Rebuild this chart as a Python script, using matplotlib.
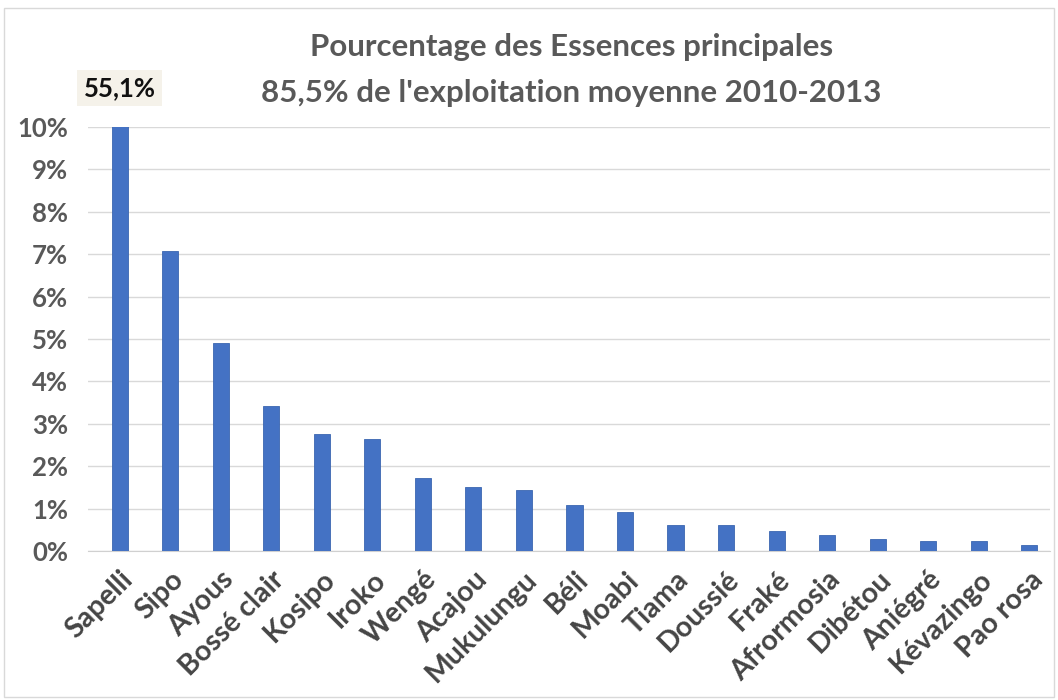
import matplotlib.pyplot as plt
from matplotlib.patches import Rectangle

species = ["Sapelli", "Sipo", "Ayous", "Bossé clair", "Kosipo", "Iroko", "Wengé",
           "Acajou", "Mukulungu", "Béli", "Moabi", "Tiama", "Doussié", "Fraké",
           "Afrormosia", "Dibétou", "Aniégré", "Kévazingo", "Pao rosa"]
share = [55.1, 7.08, 4.9, 3.42, 2.76, 2.64, 1.72, 1.51, 1.44, 1.08, 0.92,
         0.61, 0.61, 0.47, 0.38, 0.28, 0.23, 0.23, 0.13]
yticks = list(range(0, 11))

plt.rcParams['font.family'] = ['Lato', 'DejaVu Sans']

fig = plt.figure(figsize=(10.58, 7), dpi=100)
ax = fig.add_axes([0.083, 0.213, 0.909, 0.6057])

x = list(range(len(species)))
ax.bar(x, share, width=0.32, color="#4472C4", edgecolor="#3b66b0", linewidth=0.6, zorder=3)
ax.set_ylim(0, 10)
ax.set_xlim(-0.63, 18.4)
ax.set_yticks(yticks)
ax.set_yticklabels([f"{t}%" for t in yticks], fontsize=18.5, fontweight="bold", color="#595959")
ax.set_xticks(x)
ax.set_xticklabels(species, rotation=45, ha="right", rotation_mode="anchor",
                   fontsize=20.5, fontweight="bold", color="#454545")
ax.tick_params(axis="both", length=0)
ax.tick_params(axis="y", pad=14)
ax.tick_params(axis="x", pad=11)
ax.grid(axis="y", color="#d9d9d9", linewidth=1, zorder=0)
for s in ["top", "right", "left"]:
    ax.spines[s].set_visible(False)
ax.spines["bottom"].set_color("#d0d0d0")

ax.annotate(f"{share[0]:.1f}%".replace(".", ","), xy=(0, 10), xytext=(0, 28),
            textcoords="offset points", ha="center", va="center",
            fontsize=18.5, fontweight="bold", color="#111111",
            bbox=dict(boxstyle="square,pad=0.25", fc="#f5f2ea", ec="none"),
            annotation_clip=False)

fig.text(0.54, 0.933, "Pourcentage des Essences principales", ha="center", va="center",
         fontsize=22.5, fontweight="bold", color="#595959")
fig.text(0.54, 0.867, "85,5% de l'exploitation moyenne 2010-2013", ha="center", va="center",
         fontsize=22.5, fontweight="bold", color="#595959")

fig.patches.append(Rectangle((0.004, 0.004), 0.992, 0.985, transform=fig.transFigure,
                             fill=False, ec="#d9d9d9", lw=1))

fig.savefig("out.png", dpi=100)
